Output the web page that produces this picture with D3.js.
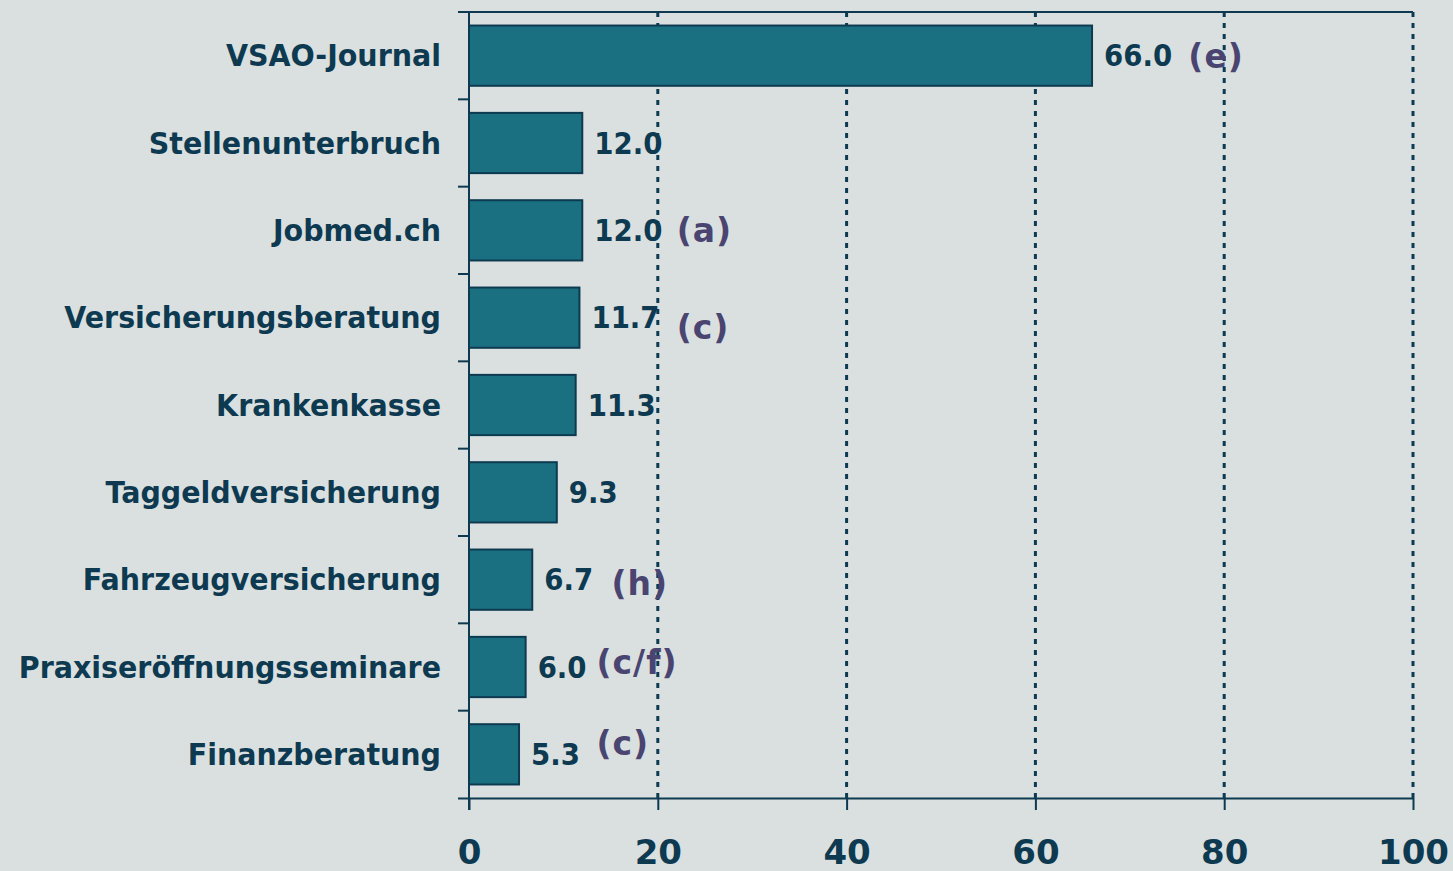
<!DOCTYPE html>
<html><head><meta charset="utf-8">
<script src="https://cdn.jsdelivr.net/npm/d3@7"></script>
<style>
html,body{margin:0;padding:0;background:#dae0e0;}
svg{display:block;}
text{font-family:"DejaVu Sans",Verdana,sans-serif;font-weight:bold;}
</style></head><body>
<svg id="c" width="1453" height="871"></svg>
<script>
const categories = ["VSAO-Journal","Stellenunterbruch","Jobmed.ch","Versicherungsberatung","Krankenkasse","Taggeldversicherung","Fahrzeugversicherung","Praxiseröffnungsseminare","Finanzberatung"];
const values = [66.0,12.0,12.0,11.7,11.3,9.3,6.7,6.0,5.3];
const notes = ["(e)","","(a)","(c)","","","(h)","(c/f)","(c)"];
const noteAt = [76.2,0,22.0,22.0,0,0,15.1,13.5,13.5];   // note position in axis units
const noteDy = [0,0,0,9,0,0,3,-5,-11];
const xTicks = [0,20,40,60,80,100];

const ink = "#0d3a50", barFill = "#1a7080", noteCol = "#4a4570";
const svg = d3.select("#c");
const L = 469, R = 1413, T = 12, B = 798;
const x = d3.scaleLinear().domain([0,100]).range([L,R]);
const y = d3.scaleBand().domain(categories).range([T,B]).paddingInner(0.31).paddingOuter(0.155);
const yb = d3.scaleBand().domain(categories).range([T,B]);

function squeeze(sel, k){
  sel.each(function(){ const w=this.getComputedTextLength(); this.setAttribute("textLength", w*k); this.setAttribute("lengthAdjust","spacingAndGlyphs"); });
}

// grid
svg.append("g").selectAll("line").data(xTicks.filter(d=>d>0)).join("line")
  .attr("x1",d=>x(d)).attr("x2",d=>x(d)).attr("y1",T).attr("y2",B)
  .attr("stroke",ink).attr("stroke-width",3).attr("stroke-dasharray","5,6");
// top line
svg.append("line").attr("x1",L-11).attr("x2",R).attr("y1",T).attr("y2",T).attr("stroke",ink).attr("stroke-width",2);

// bottom axis
const xa = svg.append("g").attr("transform",`translate(0,${B})`)
  .call(d3.axisBottom(x).tickValues(xTicks).tickSize(12).tickPadding(30).tickSizeOuter(0));
xa.select(".domain").attr("d",`M${L-11},0.5H${R}`).attr("stroke",ink).attr("stroke-width",2);
xa.selectAll(".tick line").attr("stroke",ink).attr("stroke-width",2);
xa.selectAll(".tick text").attr("fill",ink).attr("font-size",34).attr("font-family","DejaVu Sans").attr("font-weight","bold").attr("dy","0.71em");

// left axis
svg.append("line").attr("x1",L).attr("x2",L).attr("y1",T).attr("y2",B+12).attr("stroke",ink).attr("stroke-width",2);
svg.append("g").selectAll("line").data(categories.slice(1)).join("line")
  .attr("x1",L-11).attr("x2",L).attr("y1",d=>yb(d)).attr("y2",d=>yb(d)).attr("stroke",ink).attr("stroke-width",2);

// bars
svg.append("g").selectAll("rect").data(values).join("rect")
  .attr("x",x(0)).attr("y",(d,i)=>y(categories[i])).attr("width",d=>x(d)-x(0)).attr("height",y.bandwidth())
  .attr("fill",barFill).attr("stroke",ink).attr("stroke-width",2);

// category labels
svg.append("g").selectAll("text").data(categories).join("text")
  .attr("x",441).attr("y",d=>yb(d)+yb.bandwidth()/2).attr("dy","0.36em")
  .attr("text-anchor","end").attr("fill",ink).attr("font-size",30).text(d=>d)
  .call(squeeze,0.95);

// value labels
svg.append("g").selectAll("text").data(values).join("text")
  .attr("x",d=>x(d)+12).attr("y",(d,i)=>yb(categories[i])+yb.bandwidth()/2).attr("dy","0.36em")
  .attr("fill",ink).attr("font-size",30).text(d=>d.toFixed(1))
  .call(squeeze,0.92);

// notes
svg.append("g").selectAll("text").data(notes).join("text")
  .attr("x",(d,i)=>x(noteAt[i])).attr("y",(d,i)=>yb(categories[i])+yb.bandwidth()/2+noteDy[i]).attr("dy","0.36em")
  .attr("fill",noteCol).attr("font-size",33).attr("letter-spacing",1).text(d=>d);
</script>
</body></html>
